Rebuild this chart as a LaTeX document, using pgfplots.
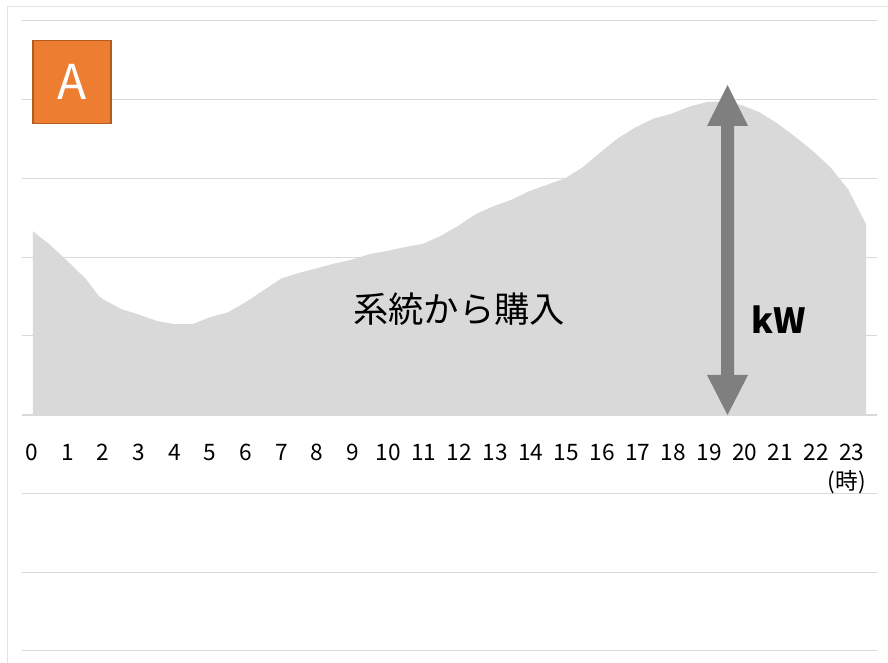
\documentclass[border=0pt]{standalone}
\usepackage{pgfplots}
\pgfplotsset{compat=1.18}
\usepackage{fontspec}
\setmainfont{Noto Sans CJK JP}
\definecolor{gridc}{HTML}{D9D9D9}
\definecolor{areac}{HTML}{D9D9D9}
\definecolor{arrowc}{HTML}{7F7F7F}
\definecolor{orangeA}{HTML}{ED7D31}
\definecolor{orangeB}{HTML}{B35C22}
\definecolor{framec}{HTML}{E2E2E2}
\pgfplotstableread{
h v
0 2.33
0.5 2.15
1 1.94
1.5 1.72
1.85 1.51
2 1.46
2.5 1.34
3 1.27
3.5 1.19
4 1.15
4.5 1.15
5 1.24
5.5 1.30
6 1.43
6.5 1.58
7 1.73
7.5 1.80
8 1.86
8.5 1.92
9 1.97
9.5 2.04
10 2.08
10.5 2.13
11 2.17
11.5 2.27
12 2.40
12.5 2.55
13 2.65
13.5 2.73
14 2.84
14.5 2.92
15 3.00
15.5 3.14
16 3.33
16.5 3.51
17 3.65
17.5 3.76
18 3.82
18.5 3.91
19 3.97
19.5 3.98
20 3.93
20.5 3.84
21 3.70
21.5 3.53
22 3.35
22.5 3.14
23 2.86
23.5 2.42
}\loadtable
\begin{document}
\begin{tikzpicture}
\useasboundingbox (0,0) rectangle (666pt,497.25pt);
\begin{axis}[
  at={(16.5pt,9pt)}, anchor=south west,
  scale only axis, width=641.25pt, height=472.5pt,
  xmin=-0.31, xmax=23.81, ymin=-3, ymax=5,
  axis line style={draw=none},
  major tick length=0pt,
  ytick={-3,-2,-1,0,1,2,3,4,5}, yticklabels={},
  ymajorgrids, grid style={gridc, line width=0.75pt},
  xtick={-0.034,0.972,1.977,2.983,3.989,4.994,6.0,7.005,8.011,9.017,10.022,11.028,12.034,13.039,14.045,15.05,16.056,17.062,18.068,19.073,20.079,21.084,22.09,23.096},
  xticklabels={0,1,2,3,4,5,6,7,8,9,10,11,12,13,14,15,16,17,18,19,20,21,22,23},
  xticklabel style={anchor=base, yshift=142.5pt, font=\fontsize{17}{20}\selectfont, text=black},
  clip=false,
]
\addplot[fill=areac, draw=none] table[x=h, y=v] {\loadtable} \closedcycle;
\addplot[gridc, line width=1.4pt] coordinates {(-0.31,0) (23.81,0)};
\end{axis}
\begin{scope}[x=0.75pt,y=0.75pt]
  % frame
  \draw[framec, line width=1.1pt] (7.5,0) -- (7.5,656.3) -- (888,656.3);
  % A box
  \draw[fill=orangeA, draw=orangeB, line width=0.8pt] (33,539.7) rectangle (111,622.3);
  \node[text=white, font=\fontsize{36}{40}\selectfont] at (72,581) {A};
  % arrow
  \fill[arrowc] (727.5,578) -- (748,537) -- (734,537) -- (734,288) -- (748,288) -- (727.5,248)
     -- (707,288) -- (721,288) -- (721,537) -- (707,537) -- cycle;
  \node[font=\fontsize{26}{30}\selectfont\bfseries] at (779,343) {kW};
  \node[font=\fontsize{26.5}{30}\selectfont] at (459,354) {系統から購入};
  \node[anchor=east, inner sep=0pt, font=\fontsize{17}{20}\selectfont] at (866,181) {(時)};
\end{scope}
\end{tikzpicture}
\end{document}
